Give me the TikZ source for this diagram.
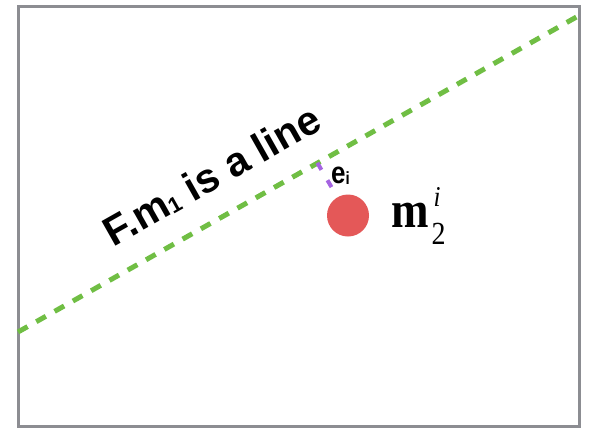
\documentclass[tikz,border=0pt]{standalone}
\usepackage{fontspec}
\usepackage{tikz}
\usetikzlibrary{positioning,calc}
\newfontfamily\sansbold[BoldFont={Liberation Sans Bold}]{Liberation Sans}
\newfontfamily\serifm[BoldFont={Liberation Serif Bold},ItalicFont={Liberation Serif Italic}]{Liberation Serif}
\definecolor{verde}{RGB}{112,190,68}
\definecolor{morado}{RGB}{165,100,225}
\definecolor{rojo}{RGB}{228,88,88}
\definecolor{gris}{RGB}{140,141,146}

\begin{document}
\begin{tikzpicture}[x=1pt,y=-1pt,
marco/.style={draw=gris,line width=3pt},
linea/.style={draw=verde,line width=5pt,dash pattern=on 11pt off 10pt},
perp/.style={draw=morado,line width=4pt,dash pattern=on 8pt off 12pt},
masa/.style={circle,fill=rojo,minimum size=42pt,inner sep=0pt},
lbl/.style={font=\sansbold\bfseries,text=black,inner sep=0pt}
]
\useasboundingbox (0,0) rectangle (592,429);
\draw[marco] (18.5,6.5) rectangle (579.5,426.5);

\coordinate (a) at (18,332);
\coordinate (b) at (580,15);
\coordinate (pie) at (317.4,162.9);
\node[masa] (m) at (348,215.5) {};

\draw[linea] (a) -- (b);
\draw[perp,shorten >=7pt] (pie) -- (m);

\node[lbl,font=\sansbold\bfseries\fontsize{41}{41}\selectfont,rotate=29.46,anchor=base] (rotulo) at (219,188)
  {F.m\raisebox{-1pt}{\fontsize{22}{22}\selectfont 1} is a line};
\node[lbl,font=\sansbold\bfseries\fontsize{26}{26}\selectfont,anchor=base west,yscale=1.18,transform shape] (ei) at (331,183)
  {e\raisebox{-1pt}{\fontsize{15}{15}\selectfont i}};
\node[lbl,font=\serifm,anchor=base west,yscale=1.15,transform shape] (m2) at (391,227)
  {{\fontsize{45}{45}\selectfont\bfseries m}\kern3pt\rlap{\raisebox{-15.6pt}{\fontsize{28}{28}\selectfont 2}}\kern2pt\raisebox{17.4pt}{\fontsize{25}{25}\selectfont\itshape i}};
\end{tikzpicture}
\end{document}
